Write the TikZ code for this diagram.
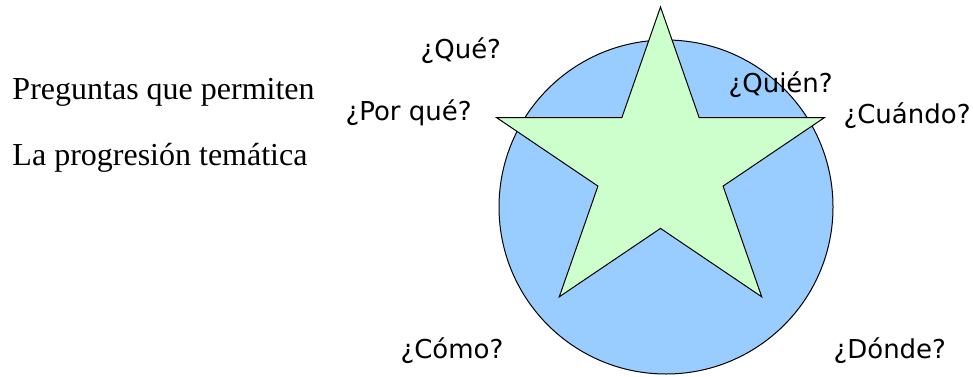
\documentclass[tikz,border=0pt]{standalone}
\usepackage{fontspec}
\setmainfont{Liberation Serif}
\newfontfamily\qfont{DejaVu Sans}
\definecolor{circfill}{RGB}{153,204,255}
\definecolor{starfill}{RGB}{204,255,204}
\begin{document}
\begin{tikzpicture}[x=1pt, y=1pt, line width=1pt,
		pregunta/.style={font=\qfont\fontsize{26}{30}\selectfont, anchor=base west, inner sep=0pt},
		titulo/.style={font=\fontsize{32}{36}\selectfont, anchor=base west, inner sep=0pt}]
		\useasboundingbox (0,0) rectangle (973,376);
		\draw[fill=circfill] (666,169) circle (167);
		\begin{scope}[shift={(660.5,208.8)}, xscale=1.075]
			\draw[fill=starfill, line join=miter] (90:160.2)
				\foreach \a in {0,...,4}{ -- (126+72*\a:61.2) -- (162+72*\a:160.2) } -- cycle;
		\end{scope}
		\node[titulo] (t1) at (12,277) {Preguntas que permiten};
		\node[titulo] (t2) at (12,211) {La progresión temática};
		\foreach \txt/\px/\py [count = \k] in {¿Qué?/420/318, ¿Por qué?/345/256,
				¿Quién?/728/284, ¿Cuándo?/843/253, ¿Cómo?/400/18, ¿Dónde?/833/18}{
			\node[pregunta] (q\k) at (\px,\py) {\txt};
		}
	\end{tikzpicture}
\end{document}
